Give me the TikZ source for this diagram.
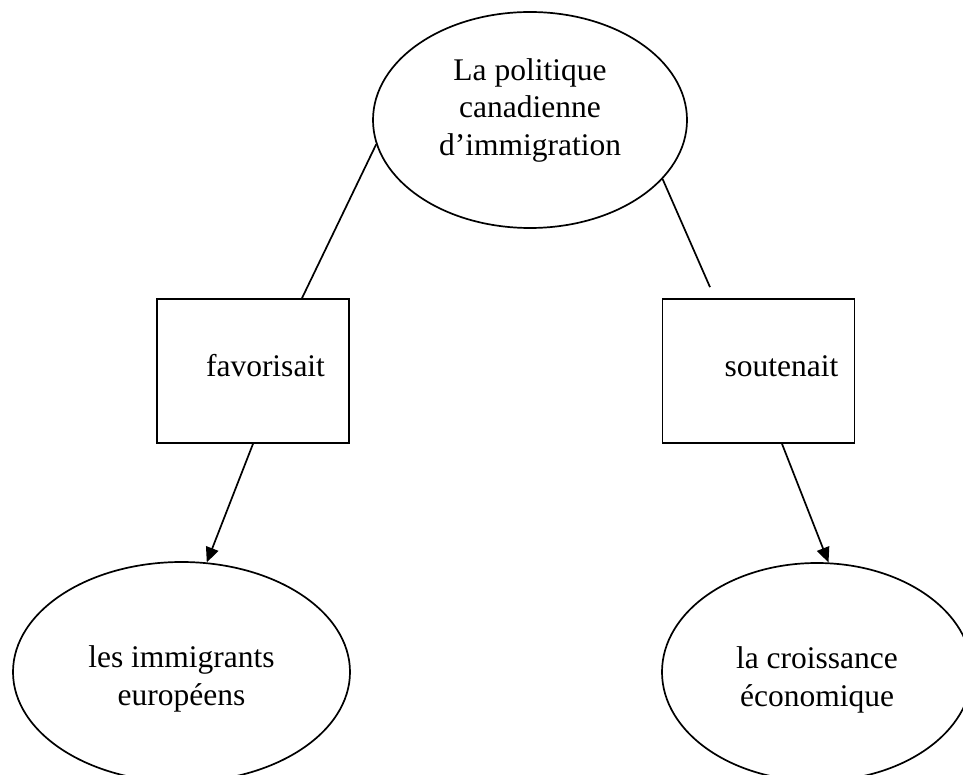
\documentclass[tikz,border=0pt]{standalone}
\usepackage{fontspec}
\setmainfont{Liberation Serif}
\usetikzlibrary{arrows.meta,shapes.geometric,calc}
\tikzset{
  oval/.style={draw, ellipse, line width=1.7pt, inner sep=0pt},
  boxnode/.style={draw, rectangle, line width=1.7pt, inner sep=0pt, minimum width=192pt, minimum height=144pt},
  txt/.style={align=center, inner sep=0pt, font=\fontsize{31.5}{37.5}\selectfont},
  link/.style={line width=1.7pt},
  arrowlink/.style={line width=1.7pt, -{Triangle[length=15pt,width=13pt]}}
}
\begin{document}
\begin{tikzpicture}[x=1pt,y=-1pt]
\useasboundingbox (0,0) rectangle (963,775);
% ellipses
\node[oval, minimum width=314pt, minimum height=216pt] (top) at (530,120) {};
\node[oval, minimum width=337pt, minimum height=220pt] (botL) at (181.5,672) {};
\node[oval, minimum width=310pt, minimum height=218pt] (botR) at (817,672) {};
% boxes
\node[boxnode] (box1) at (253,371) {};
\node[boxnode] (box2) at (758.5,371) {};
% texts
\node[txt] (ttop) at (530,110) {La politique\\canadienne\\d’immigration};
\node[txt] (tbox1) at (265.5,366) {favorisait};
\node[txt] (tbox2) at (781.5,366) {soutenait};
\node[txt] (tbotL) at (181.5,679) {les immigrants\\européens};
\node[txt] (tbotR) at (817,680) {la croissance\\économique};
% connectors
\coordinate (lend) at ([xshift=49pt]box1.north);
\coordinate (rend) at ([xshift=-48.5pt,yshift=11pt]box2.north);
\draw[link] (top.189) -- (lend);
\draw[link] (top.336) -- (rend);
\draw[arrowlink] (box1.south) -- (botL.77);
\draw[arrowlink] ([xshift=23.5pt]box2.south) -- (botR.84);
\end{tikzpicture}
\end{document}
